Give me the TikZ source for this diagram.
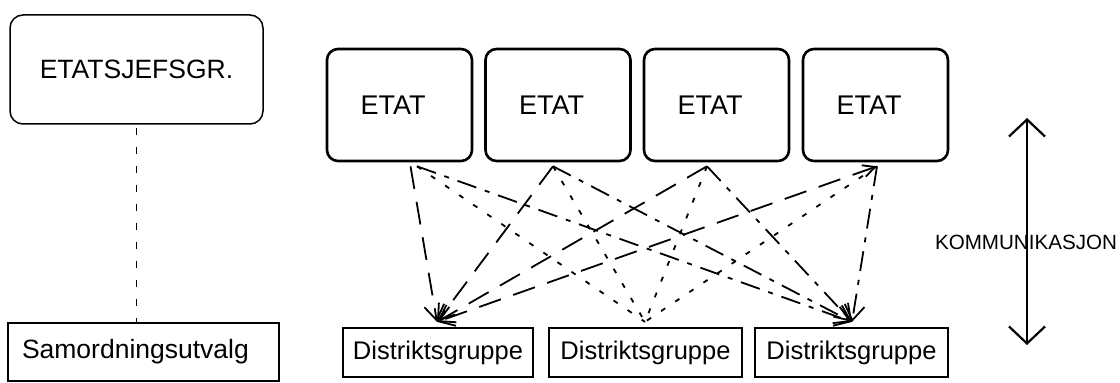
\documentclass[tikz,border=0pt]{standalone}
\usepackage{fontspec}
\setmainfont{Liberation Sans}
\usetikzlibrary{arrows.meta,calc}
\begin{document}
\begin{tikzpicture}[x=1pt,y=1pt,
  roundbox/.style={draw,rounded corners=13pt,line width=1.5pt,inner sep=0pt},
  etatbox/.style={draw,rounded corners=11pt,line width=2.6pt,text width=145pt,align=left,minimum height=112pt,inner xsep=0pt,inner ysep=0pt,font=\fontsize{27}{30}\selectfont},
  distbox/.style={draw,line width=2.2pt,minimum height=49pt,inner sep=0pt,font=\fontsize{25.5}{28}\selectfont},
  longdash/.style={line width=1.8pt,dash pattern=on 23pt off 13pt},
  shortdash/.style={line width=1.8pt,dash pattern=on 5pt off 12pt},
  dashdot/.style={line width=1.8pt,dash pattern=on 20pt off 9pt on 5pt off 9pt},
  barb/.style={-{Straight Barb[length=15pt,width=20pt,line width=1.8pt]}},
  bigbarb/.style={{Straight Barb[length=17pt,width=36pt,line width=2.2pt]}-{Straight Barb[length=17pt,width=36pt,line width=2.2pt]}}
]
\useasboundingbox (0,0) rectangle (1120,383);

% left column
\node[roundbox,minimum width=253pt,minimum height=109pt,font=\fontsize{26.5}{30}\selectfont] (esg) at (136.5,313.5) {ETATSJEFSGR.};
\node[draw,line width=1.5pt,inner xsep=14pt,inner ysep=0pt,text width=243pt,align=left,minimum height=58pt,font=\fontsize{26.5}{30}\selectfont] (sam) at (143.5,31) {Samordningsutvalg};
\draw[line width=1.8pt,dash pattern=on 7pt off 12pt] (esg.south) ++(0,-3) -- (esg.south |- sam.north);

% ETAT boxes
\node[etatbox] (e1) at (399.5,278) {\hspace*{33.5pt}ETAT};
\node[etatbox] (e2) at (558,278) {\hspace*{33.5pt}ETAT};
\node[etatbox] (e3) at (716.5,278) {\hspace*{33.5pt}ETAT};
\node[etatbox] (e4) at (875.5,278) {\hspace*{33.5pt}ETAT};

% Distrikt boxes
\node[distbox,minimum width=190pt] (d1) at (438,30.5) {Distriktsgruppe};
\node[distbox,minimum width=193pt] (d2) at (645.5,30.5) {Distriktsgruppe};
\node[distbox,minimum width=193pt] (d3) at (851.5,30.5) {Distriktsgruppe};

% connectors to D1 (long dashes, arrows)
\draw[longdash,barb] ([xshift=11pt,yshift=-4pt]e1.south) -- ([xshift=-1pt,yshift=5pt]d1.north);
\draw[longdash,barb] ([xshift=-5pt,yshift=-4pt]e2.south) -- ([xshift=-1pt,yshift=5pt]d1.north);
\draw[longdash,barb] ([xshift=-9.5pt,yshift=-4pt]e3.south) -- ([xshift=-1pt,yshift=5pt]d1.north);
\draw[longdash,{Straight Barb[length=12pt,width=12pt,line width=1.8pt]}-{Straight Barb[length=15pt,width=20pt,line width=1.8pt]}] ([xshift=1.5pt,yshift=-4pt]e4.south) -- ([xshift=-1pt,yshift=5pt]d1.north);

% connectors to D2 (short dashes)
\draw[shortdash] ([xshift=17.5pt,yshift=-4pt]e1.south) -- ([xshift=-0.5pt,yshift=5pt]d2.north);
\draw[shortdash] ([xshift=-5pt,yshift=-4pt]e2.south) -- ([xshift=-0.5pt,yshift=5pt]d2.north);
\draw[shortdash] ([xshift=-9.5pt,yshift=-4pt]e3.south) -- ([xshift=-0.5pt,yshift=5pt]d2.north);
\draw[shortdash] ([xshift=1.5pt,yshift=-4pt]e4.south) -- ([xshift=-0.5pt,yshift=5pt]d2.north);

% connectors to D3 (dash-dot, arrows)
\draw[dashdot,barb] ([xshift=17.5pt,yshift=-4pt]e1.south) -- ([xshift=0.5pt,yshift=5pt]d3.north);
\draw[dashdot,barb] ([xshift=-5pt,yshift=-4pt]e2.south) -- ([xshift=0.5pt,yshift=5pt]d3.north);
\draw[dashdot,barb] ([xshift=-9.5pt,yshift=-4pt]e3.south) -- ([xshift=0.5pt,yshift=5pt]d3.north);
\draw[dashdot,barb] ([xshift=1.5pt,yshift=-4pt]e4.south) -- ([xshift=0.5pt,yshift=5pt]d3.north);

% communication arrow
\node[inner sep=0pt,font=\fontsize{20.6}{24}\selectfont] (kom) at (1026,141) {KOMMUNIKASJON};
\coordinate (ktop) at (1027,265);
\coordinate (kbot) at (1027,38);
\draw[line width=2.2pt,bigbarb] (kbot) -- (ktop);
\end{tikzpicture}
\end{document}
